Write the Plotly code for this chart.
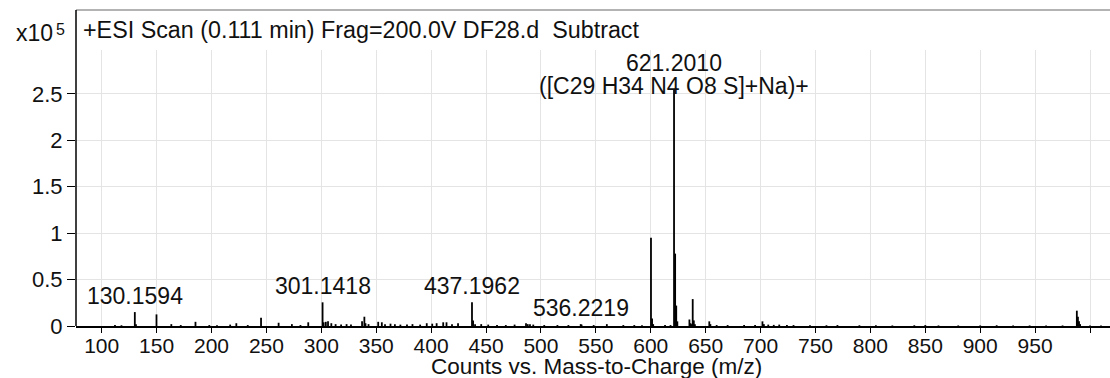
import plotly.graph_objects as go

# ---- data (intensity in units of 10^5 counts) ----
mz = [112.1, 118.0, 130.16, 131.2, 149.9, 163.4, 172.0, 185.4, 198.0, 205.0,
      217.0, 222.6, 233.0, 245.1, 261.1, 273.2, 281.0, 288.1, 301.14, 302.1,
      304.1, 306.1, 309.1, 313.0, 318.0, 323.0, 327.0, 337.1, 339.2, 340.2,
      343.0, 351.8, 355.1, 358.0, 363.0, 367.0, 372.0, 378.0, 383.0, 390.0,
      396.0, 401.0, 405.0, 411.0, 414.0, 419.0, 424.5, 437.2, 438.2, 440.0,
      445.6, 452.0, 460.0, 468.0, 476.0, 486.4, 488.0, 490.0, 493.0, 503.0,
      515.0, 525.0, 536.2, 537.0, 548.0, 560.0, 575.0, 585.0, 592.0, 600.2,
      601.2, 602.2, 613.0, 618.0, 621.2, 622.2, 623.2, 624.2, 635.2, 636.2,
      637.2, 638.2, 639.2, 640.2, 653.3, 654.3, 660.0, 670.0, 685.0, 695.0,
      701.7, 703.0, 707.0, 712.0, 717.0, 724.0, 730.0, 745.0, 760.0, 770.0,
      790.0, 805.0, 820.0, 840.0, 850.0, 862.0, 880.0, 900.0, 915.0, 930.0,
      945.0, 960.0, 975.0, 988.0, 989.0, 990.0, 991.0, 1000.0, 1010.0]
intensity = [0.010, 0.008, 0.150, 0.020, 0.125, 0.020, 0.010, 0.045, 0.010, 0.008,
             0.015, 0.030, 0.010, 0.090, 0.035, 0.020, 0.010, 0.040, 0.255, 0.040,
             0.045, 0.050, 0.030, 0.020, 0.015, 0.020, 0.015, 0.050, 0.100, 0.030,
             0.020, 0.045, 0.040, 0.020, 0.025, 0.020, 0.015, 0.015, 0.020, 0.015,
             0.030, 0.025, 0.030, 0.040, 0.040, 0.020, 0.030, 0.255, 0.060, 0.020,
             0.020, 0.015, 0.010, 0.010, 0.015, 0.030, 0.020, 0.020, 0.015, 0.010,
             0.010, 0.010, 0.020, 0.015, 0.010, 0.020, 0.010, 0.010, 0.008, 0.950,
             0.080, 0.020, 0.012, 0.010, 2.550, 0.780, 0.220, 0.050, 0.070, 0.030,
             0.020, 0.290, 0.060, 0.020, 0.050, 0.020, 0.010, 0.010, 0.010, 0.012,
             0.050, 0.020, 0.015, 0.012, 0.015, 0.012, 0.010, 0.008, 0.008, 0.010,
             0.008, 0.008, 0.006, 0.008, 0.010, 0.006, 0.006, 0.006, 0.008, 0.006,
             0.006, 0.006, 0.006, 0.165, 0.100, 0.050, 0.020, 0.006, 0.005]

label_mz = [130.1594, 301.1418, 437.1962, 536.2219]
label_height = [0.150, 0.255, 0.255, 0.020]
main_mz = 621.2010
main_height = 2.550
main_formula = "([C29 H34 N4 O8 S]+Na)+"

x_ticks = list(range(100, 1001, 50))
x_ticktext = [str(v) if v < 1000 else "" for v in x_ticks]
y_ticks = [0, 0.5, 1, 1.5, 2, 2.5]
y_ticktext = ["0", "0.5", "1", "1.5", "2", "2.5"]

title_text = "+ESI Scan (0.111 min) Frag=200.0V DF28.d\u00a0 Subtract"
x_title = "Counts vs. Mass-to-Charge (m/z)"

# ---- build stick spectrum ----
xs, ys = [], []
for m, h in zip(mz, intensity):
    xs += [m, m, None]
    ys += [0, h, None]

FONT = "Liberation Sans, Arial, sans-serif"
TXT = "#111"

fig = go.Figure()
fig.add_trace(go.Scatter(x=xs, y=ys, mode="lines",
                         line=dict(color="black", width=1.8),
                         hoverinfo="skip", showlegend=False))

annotations = []
for m, h in zip(label_mz, label_height):
    annotations.append(dict(x=m, y=h, xref="x", yref="y", text=f"{m:.4f}",
                            showarrow=False, yanchor="middle", yshift=16,
                            font=dict(family=FONT, size=23, color=TXT)))
annotations.append(dict(x=main_mz, y=main_height, xref="x", yref="y",
                        text=f"{main_mz:.4f}", showarrow=False,
                        yanchor="middle", yshift=26,
                        font=dict(family=FONT, size=23, color=TXT)))
annotations.append(dict(x=main_mz, y=main_height, xref="x", yref="y",
                        text=main_formula, showarrow=False,
                        yanchor="middle", yshift=3,
                        font=dict(family=FONT, size=23, color=TXT)))
# title inside top band
annotations.append(dict(x=0, y=(326 - 30) / 276, xref="paper", yref="paper",
                        text=title_text, showarrow=False, xanchor="left",
                        yanchor="middle", xshift=5,
                        font=dict(family=FONT, size=23.3, color=TXT)))
# exponent label
annotations.append(dict(x=0, y=(326 - 33) / 276, xref="paper", yref="paper",
                        text="x10", showarrow=False, xanchor="right",
                        yanchor="middle", xshift=-21,
                        font=dict(family=FONT, size=23, color=TXT)))
annotations.append(dict(x=0, y=(326 - 30) / 276, xref="paper", yref="paper",
                        text="5", showarrow=False, xanchor="left",
                        yanchor="middle", xshift=-22,
                        font=dict(family=FONT, size=16, color=TXT)))
# x axis title
annotations.append(dict(x=(596.7 - 76) / 1034, y=(326 - 366.5) / 276,
                        xref="paper", yref="paper", text=x_title,
                        showarrow=False, xanchor="center", yanchor="middle",
                        borderpad=0,
                        font=dict(family=FONT, size=22.5, color=TXT)))

shapes = [
    dict(type="line", xref="paper", yref="paper", x0=0, x1=1,
         y0=(326 - 10) / 276, y1=(326 - 10) / 276,
         line=dict(color="#9a9a9a", width=1.5)),
    dict(type="line", xref="paper", yref="paper", x0=0, x1=0,
         y0=0, y1=(326 - 10) / 276,
         line=dict(color="black", width=1.5)),
]

fig.update_layout(
    width=1110, height=378,
    margin=dict(l=76, r=0, t=50, b=52),
    paper_bgcolor="white", plot_bgcolor="white",
    annotations=annotations, shapes=shapes,
    xaxis=dict(range=[76.6, 1018.2], tickmode="array", tickvals=x_ticks,
               ticktext=x_ticktext, showgrid=True, gridcolor="#e4e4e4",
               gridwidth=1, zeroline=False, showline=True, linecolor="black",
               linewidth=2, ticks="outside", ticklen=5, tickcolor="black",
               tickwidth=1.2, ticklabelstandoff=-5,
               tickfont=dict(family=FONT, size=21, color=TXT)),
    yaxis=dict(range=[0, 2.974], tickmode="array", tickvals=y_ticks,
               ticktext=y_ticktext, showgrid=True, gridcolor="#e4e4e4",
               gridwidth=1, zeroline=False, showline=False, ticks="outside",
               ticklen=8, tickcolor="black", tickwidth=1.2,
               tickfont=dict(family=FONT, size=22, color=TXT)),
)

fig.write_html("out.html",
               config={"displayModeBar": False},
               post_script="document.body.style.margin='0px';"
                           "document.body.style.overflow='hidden';")
